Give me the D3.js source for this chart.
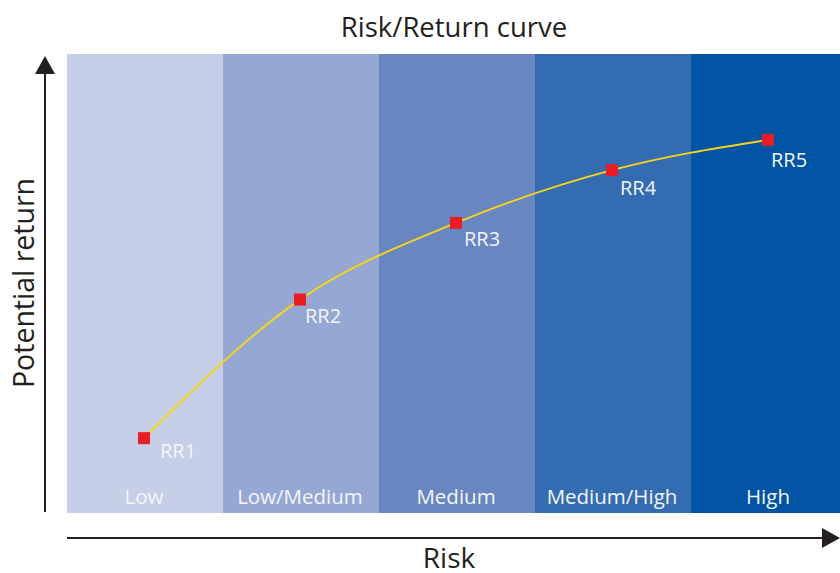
<!DOCTYPE html>
<html>
<head>
<meta charset="utf-8">
<script src="https://cdn.jsdelivr.net/npm/d3@7"></script>
<style>
  html, body { margin: 0; padding: 0; background: #fff; }
  svg { display: block; font-family: "Open Sans", "Noto Sans", sans-serif; }
</style>
</head>
<body>
<svg id="chart" width="840" height="573"></svg>
<script>
// Risk bands along the x axis
const categories = ["Low", "Low/Medium", "Medium", "Medium/High", "High"];
const bandColors = ["#c5cfe7", "#95a8d3", "#6886bf", "#336cb1", "#0054a3"];
// Risk/return classes and their potential return (0-100 scale)
const classes = ["RR1", "RR2", "RR3", "RR4", "RR5"];
const returns = [16.3, 46.5, 63.2, 74.7, 81.3];

// label placement relative to each marker
const labelDx = [16, 5, 8, 8, 3];
const labelDy = [20, 23, 23, 25, 27];

const svg = d3.select("#chart");
const plot = { left: 67, right: 847, top: 54, bottom: 513 };

const x = d3.scaleBand().domain(categories).range([plot.left, plot.right]).paddingInner(0).paddingOuter(0);
const y = d3.scaleLinear().domain([0, 100]).range([plot.bottom, plot.top]);

// bands
svg.append("g").selectAll("rect")
  .data(categories)
  .join("rect")
  .attr("x", d => x(d))
  .attr("y", plot.top)
  .attr("width", x.bandwidth() + 0.5)
  .attr("height", plot.bottom - plot.top)
  .attr("fill", (d, i) => bandColors[i]);

// band labels
svg.append("g").selectAll("text")
  .data(categories)
  .join("text")
  .attr("x", d => x(d) + x.bandwidth() / 2 - 1)
  .attr("y", 504)
  .attr("text-anchor", "middle")
  .attr("fill", "#f4f6fb")
  .attr("font-size", 20.5)
  .text(d => d);

// curve
const pts = classes.map((c, i) => ({ c, i, cx: x(categories[i]) + x.bandwidth() / 2 - 1, v: returns[i] }));
const line = d3.line().x(d => d.cx).y(d => y(d.v)).curve(d3.curveMonotoneX);
svg.append("path")
  .datum(pts)
  .attr("d", line)
  .attr("fill", "none")
  .attr("stroke", "#f7d417")
  .attr("stroke-width", 2);

// markers
svg.append("g").selectAll("rect")
  .data(pts)
  .join("rect")
  .attr("x", d => d.cx - 6)
  .attr("y", d => y(d.v) - 6)
  .attr("width", 12)
  .attr("height", 12)
  .attr("fill", "#ec1c24");

// marker labels
svg.append("g").selectAll("text")
  .data(pts)
  .join("text")
  .attr("x", d => d.cx + labelDx[d.i])
  .attr("y", d => y(d.v) + labelDy[d.i])
  .attr("fill", "#f4f6fb")
  .attr("font-size", 20)
  .text(d => d.c);

// axes with arrowheads
const axisColor = "#231f20";
svg.append("line")
  .attr("x1", 45).attr("x2", 45).attr("y1", 512).attr("y2", 70)
  .attr("stroke", axisColor).attr("stroke-width", 2);
svg.append("path")
  .attr("d", d3.line()([[45, 56], [55, 74], [35, 74]]) + "Z")
  .attr("fill", axisColor);

svg.append("line")
  .attr("x1", 67).attr("x2", 826).attr("y1", 538).attr("y2", 538)
  .attr("stroke", axisColor).attr("stroke-width", 2);
svg.append("path")
  .attr("d", d3.line()([[840, 538], [822, 528], [822, 548]]) + "Z")
  .attr("fill", axisColor);

// titles
svg.append("text")
  .attr("x", 454).attr("y", 37)
  .attr("text-anchor", "middle")
  .attr("font-size", 27.5)
  .attr("fill", axisColor)
  .text("Risk/Return curve");

svg.append("text")
  .attr("x", 449).attr("y", 568)
  .attr("text-anchor", "middle")
  .attr("font-size", 28)
  .attr("fill", axisColor)
  .text("Risk");

svg.append("text")
  .attr("transform", "translate(34,283) rotate(-90)")
  .attr("text-anchor", "middle")
  .attr("font-size", 28.5)
  .attr("fill", axisColor)
  .text("Potential return");
</script>
</body>
</html>
